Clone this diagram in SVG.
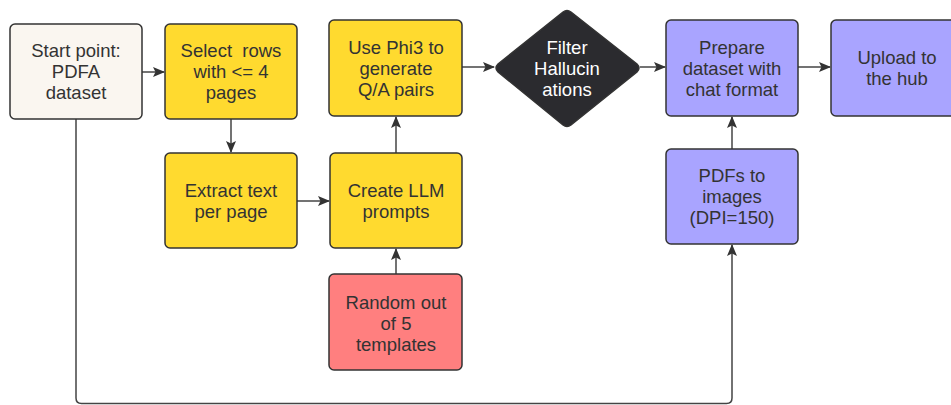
<svg xmlns="http://www.w3.org/2000/svg" width="951" height="405" viewBox="0 0 951 405">
<defs>
<marker id="arr" viewBox="0 0 12 12" refX="11" refY="6" markerWidth="12" markerHeight="12" markerUnits="userSpaceOnUse" orient="auto">
<path d="M0,1 L12,6 L0,11 L2.5,6 Z" fill="#333333"/>
</marker>
<style>
.n{stroke:#333333;stroke-width:1.5}
.cream{fill:#faf6f0}
.yel{fill:#ffda2f}
.red{fill:#ff7f7f}
.pur{fill:#a9a4ff}
.dia{fill:#2b2b2f}
text{font-family:"Liberation Sans",Arial,sans-serif;font-size:18.5px;fill:#333333;text-anchor:middle}
.w{fill:#ffffff}
.c{fill:none;stroke:#444444;stroke-width:1.5;marker-end:url(#arr)}
</style>
</defs>
<rect width="951" height="405" fill="#ffffff"/>
<g id="connectors">
<path class="c" d="M142,72 L164,72"/>
<path class="c" d="M231,119 L231,152"/>
<path class="c" d="M297,201 L329,201"/>
<path class="c" d="M396,153 L396,117"/>
<path class="c" d="M396,274 L396,249"/>
<path class="c" d="M462,67 L494,67"/>
<path class="c" d="M640,67 L665,67"/>
<path class="c" d="M798,67 L830,67"/>
<path class="c" d="M732,149 L732,117"/>
<path class="c" d="M76,119 L76,398 Q76,403.5 81.5,403.5 L726.5,403.5 Q732,403.5 732,398 L732,245"/>
</g>
<g id="start">
<rect class="n cream" x="10" y="24" width="132" height="95" rx="5"/>
<text x="76" y="57">Start point:</text>
<text x="76" y="78">PDFA</text>
<text x="76" y="99">dataset</text>
</g>
<g id="select">
<rect class="n yel" x="165" y="24" width="132" height="95" rx="5"/>
<text x="231" y="57" xml:space="preserve">Select  rows</text>
<text x="231" y="78">with &lt;= 4</text>
<text x="231" y="99">pages</text>
</g>
<g id="extract">
<rect class="n yel" x="165" y="153" width="132" height="95" rx="5"/>
<text x="231" y="197">Extract text</text>
<text x="231" y="218">per page</text>
</g>
<g id="create">
<rect class="n yel" x="330" y="153" width="132" height="95" rx="5"/>
<text x="396" y="197">Create LLM</text>
<text x="396" y="218">prompts</text>
</g>
<g id="random">
<rect class="n red" x="329" y="274" width="133" height="96" rx="5"/>
<text x="396" y="309">Random out</text>
<text x="396" y="330">of 5</text>
<text x="396" y="351">templates</text>
</g>
<g id="phi3">
<rect class="n yel" x="329" y="20" width="133" height="96" rx="5"/>
<text x="396" y="54">Use Phi3 to</text>
<text x="396" y="75">generate</text>
<text x="396" y="96">Q/A pairs</text>
</g>
<g id="filter">
<path class="n dia" d="M563,12 Q567,9 571,12 L637,64 Q641,68 637,72 L571,125 Q567,128 563,125 L498,72 Q494,68 498,64 Z"/>
<text class="w" x="567" y="54">Filter</text>
<text class="w" x="567" y="75">Hallucin</text>
<text class="w" x="567" y="96">ations</text>
</g>
<g id="prepare">
<rect class="n pur" x="666" y="20" width="132" height="96" rx="5"/>
<text x="732" y="54">Prepare</text>
<text x="732" y="75">dataset with</text>
<text x="732" y="96">chat format</text>
</g>
<g id="upload">
<rect class="n pur" x="831" y="20" width="132" height="96" rx="5"/>
<text x="897" y="64">Upload to</text>
<text x="897" y="85">the hub</text>
</g>
<g id="pdfs">
<rect class="n pur" x="666" y="149" width="132" height="95" rx="5"/>
<text x="732" y="182">PDFs to</text>
<text x="732" y="203">images</text>
<text x="732" y="224">(DPI=150)</text>
</g>
</svg>
